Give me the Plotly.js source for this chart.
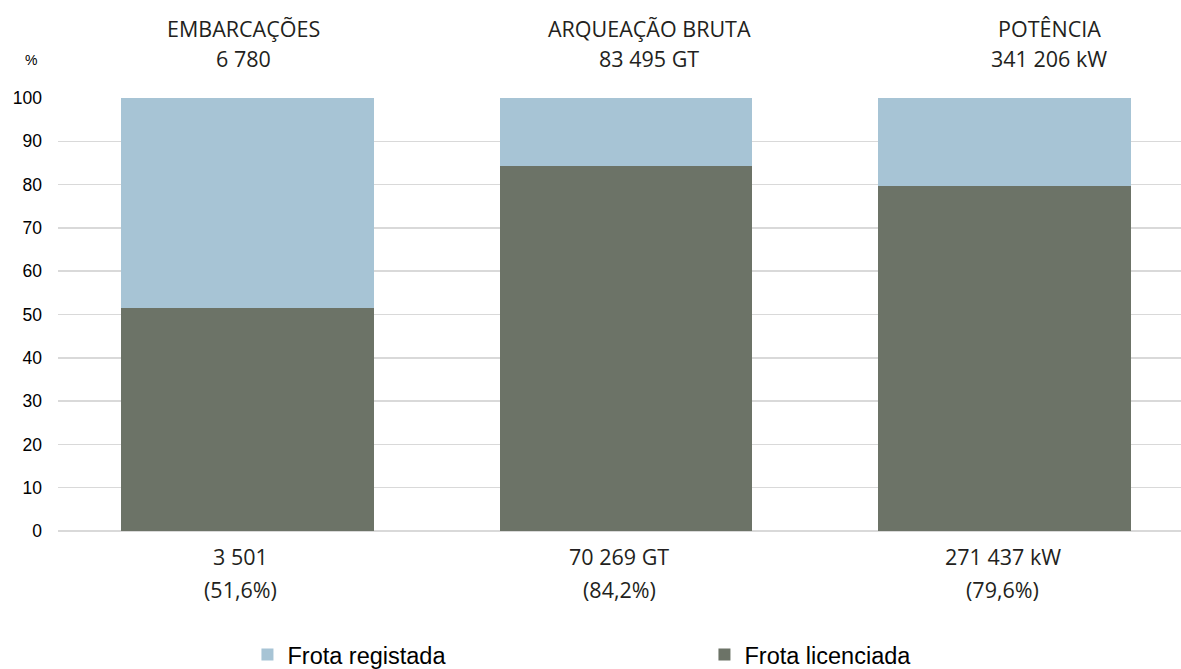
<!DOCTYPE html>
<html>
<head>
<meta charset="utf-8">
<script src="https://cdn.plot.ly/plotly-3.0.1.min.js"></script>
<style>html,body{margin:0;padding:0;background:#fff;}#chart{width:1181px;height:669px;}</style>
</head>
<body>
<div id="chart"></div>
<script>
// ---- data ----
const categories = ["EMBARCAÇÕES", "ARQUEAÇÃO BRUTA", "POTÊNCIA"];
const totals = ["6 780", "83 495 GT", "341 206 kW"];
const licenciadaPct = [51.6, 84.2, 79.6];
const registadaPct = [48.4, 15.8, 20.4];
const licenciadaAbs = ["3 501", "70 269 GT", "271 437 kW"];
const licenciadaPctLabel = ["(51,6%)", "(84,2%)", "(79,6%)"];
const seriesNames = ["Frota licenciada", "Frota registada"];
const yTicks = [0, 10, 20, 30, 40, 50, 60, 70, 80, 90, 100];

// ---- styles ----
const colLic = "#6c7367";
const colReg = "#a7c4d5";
const textCol = "#231f20";
const annFont = {family: "Open Sans", size: 21.5, color: textCol};
const topShift = [-4, 23.5, 44.5];
const botShift = [-7, -6.5, -2];

const idx = categories.map((c, i) => i);

const traces = [
  {type: "bar", name: seriesNames[0], x: idx, y: licenciadaPct,
   marker: {color: colLic}, width: 0.667, hoverinfo: "skip"},
  {type: "bar", name: seriesNames[1], x: idx, y: registadaPct,
   marker: {color: colReg}, width: 0.667, hoverinfo: "skip"}
];

const annotations = [];
idx.forEach(i => {
  annotations.push({xref: "x", yref: "paper", x: i, y: 1, yshift: 69.5, xshift: topShift[i],
    text: categories[i], showarrow: false, font: annFont, xanchor: "center", yanchor: "middle"});
  annotations.push({xref: "x", yref: "paper", x: i, y: 1, yshift: 39.5, xshift: topShift[i],
    text: totals[i], showarrow: false, font: annFont, xanchor: "center", yanchor: "middle"});
  annotations.push({xref: "x", yref: "paper", x: i, y: 0, yshift: -25, xshift: botShift[i],
    text: licenciadaAbs[i], showarrow: false, font: annFont, xanchor: "center", yanchor: "middle"});
  annotations.push({xref: "x", yref: "paper", x: i, y: 0, yshift: -58, xshift: botShift[i],
    text: licenciadaPctLabel[i], showarrow: false, font: annFont, xanchor: "center", yanchor: "middle"});
});
annotations.push({xref: "paper", yref: "paper", x: 0, xshift: -27, y: 1, yshift: 38.5,
  text: "%", showarrow: false, font: {family: "Liberation Sans", size: 14, color: "#000"},
  xanchor: "center", yanchor: "middle"});

const layout = {
  width: 1181, height: 669,
  margin: {l: 58, r: 0, t: 98, b: 138, autoexpand: false},
  paper_bgcolor: "#fff", plot_bgcolor: "#fff",
  barmode: "stack",
  showlegend: true,
  legend: {orientation: "h", traceorder: "reversed", x: 0.1687, xanchor: "left",
    y: -0.286, yanchor: "middle", entrywidth: 412, entrywidthmode: "pixels",
    font: {family: "Liberation Sans", size: 23.5, color: "#000"}, bgcolor: "rgba(0,0,0,0)"},
  xaxis: {range: [-0.5, 2.466], showticklabels: false, showgrid: false, zeroline: false,
    showline: false, ticks: "", fixedrange: true},
  yaxis: {range: [0, 100], tickvals: yTicks, ticktext: yTicks.map(String),
    showgrid: true, gridcolor: "#d9d9d9", gridwidth: 1.5, zeroline: true,
    zerolinecolor: "#d9d9d9", zerolinewidth: 1.5, showline: false, ticks: "",
    ticklabelstandoff: 15,
    tickfont: {family: "Liberation Sans", size: 17.5, color: "#000"}, fixedrange: true},
  annotations: annotations
};

Plotly.newPlot("chart", traces, layout, {staticPlot: true, displayModeBar: false});
</script>
</body>
</html>
